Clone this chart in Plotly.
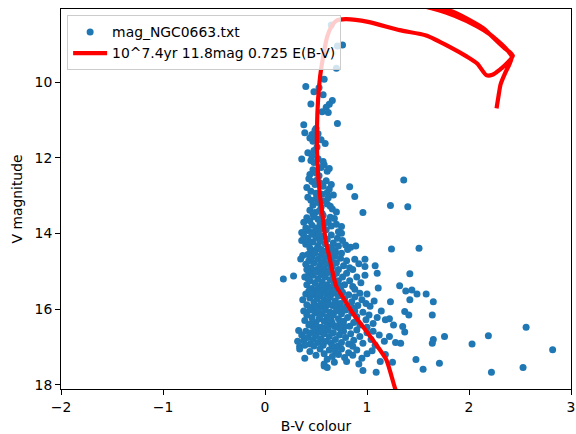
import plotly.graph_objects as go

# ---- data: observed stars (B-V colour, V magnitude) ----
stars_bv_v = [
    (0.65,8.48),(0.76,9.01),(0.71,9.04),(0.70,9.63),(0.58,9.92),(0.40,10.11),(0.48,10.25),(0.53,10.14),(0.57,10.33),
    (0.45,10.57),(0.66,10.48),(0.63,10.58),(0.60,10.66),(0.62,10.80),(0.56,10.78),(0.71,11.09),(0.38,11.12),(0.50,11.22),
    (0.39,11.33),(0.46,11.38),(0.49,11.27),(0.52,11.36),(0.59,11.62),(0.47,11.56),(0.44,11.47),(0.42,11.86),(0.48,11.80),
    (0.51,11.71),(0.46,11.95),(0.55,11.52),(0.50,11.45),
    (0.36,12.03),(0.45,12.07),(0.48,12.12),(0.52,12.02),(0.58,12.18),(0.55,12.25),(0.47,12.31),(0.50,12.40),(0.44,12.44),
    (0.61,12.35),(0.53,12.47),(0.57,12.09),(0.63,12.28),
    (0.43,12.55),(0.46,12.62),(0.49,12.70),(0.51,12.58),(0.54,12.66),(0.57,12.75),(0.60,12.60),(0.63,12.82),(0.65,12.70),
    (0.45,12.88),(0.50,12.93),(0.56,12.96),(0.61,12.91),(0.67,12.98),(0.83,12.76),(0.88,13.02),(1.36,12.58),(0.41,12.78),
    (0.42,13.04),(0.45,13.12),(0.47,13.25),(0.50,13.08),(0.52,13.18),(0.55,13.30),(0.58,13.14),(0.61,13.22),(0.64,13.28),
    (0.44,13.38),(0.49,13.44),(0.53,13.40),(0.56,13.47),(0.66,13.35),(0.70,13.43),(1.23,13.26),(1.40,13.29),(0.96,13.44),
    (0.62,13.05),(0.47,13.48),
    (0.38,13.70),(0.41,13.58),(0.44,13.66),(0.46,13.78),(0.48,13.55),(0.50,13.85),(0.52,13.62),(0.54,13.74),(0.57,13.52),
    (0.60,13.90),(0.62,13.68),(0.65,13.80),(0.68,13.60),(0.75,13.81),(0.42,13.92),(0.46,13.97),(0.51,13.95),(0.55,13.88),
    (0.59,13.72),(0.72,13.95),(0.40,13.85),(0.64,13.57),(0.70,13.75),(0.36,13.97),
    (0.36,14.18),(0.38,14.05),(0.40,14.28),(0.42,14.12),(0.44,14.38),(0.46,14.02),(0.47,14.22),(0.49,14.45),(0.50,14.10),
    (0.52,14.32),(0.54,14.20),(0.55,14.42),(0.57,14.07),(0.59,14.27),(0.61,14.15),(0.63,14.37),(0.65,14.04),(0.67,14.25),
    (0.69,14.47),(0.72,14.33),(0.75,13.99),(0.76,14.18),(0.79,14.30),(0.84,14.36),(0.89,14.33),(0.45,14.48),(0.51,14.40),
    (0.58,14.47),(0.62,14.44),(0.71,14.12),(0.43,14.25),(1.24,14.41),(1.51,14.39),(0.53,14.03),(0.66,14.40),(0.81,14.42),
    (0.35,14.67),(0.37,14.58),(0.40,14.81),(0.42,14.55),(0.43,14.72),(0.45,14.90),(0.46,14.62),(0.48,14.78),(0.49,14.52),
    (0.51,14.95),(0.52,14.68),(0.54,14.84),(0.55,14.57),(0.57,14.74),(0.58,14.92),(0.60,14.63),(0.61,14.80),(0.63,14.55),
    (0.65,14.70),(0.66,14.88),(0.68,14.60),(0.70,14.77),(0.72,14.95),(0.74,14.65),(0.77,14.85),(0.80,14.72),(0.83,14.90),
    (0.88,14.68),(0.92,14.80),(0.98,14.68),(0.98,14.87),(1.08,14.85),(0.47,14.98),(0.53,14.97),(0.59,14.99),(0.64,14.95),
    (0.69,14.53),(0.75,14.52),(0.86,14.95),(0.41,14.95),
    (0.18,15.20),(0.28,15.12),(0.39,15.15),(0.41,15.35),(0.43,15.05),(0.44,15.25),(0.46,15.45),(0.47,15.10),(0.49,15.30),
    (0.50,15.02),(0.52,15.20),(0.53,15.40),(0.55,15.08),(0.56,15.28),(0.58,15.48),(0.59,15.15),(0.61,15.35),(0.62,15.03),
    (0.64,15.22),(0.65,15.42),(0.67,15.12),(0.68,15.32),(0.70,15.05),(0.72,15.25),(0.74,15.45),(0.76,15.15),(0.78,15.35),
    (0.80,15.05),(0.83,15.25),(0.86,15.40),(0.90,15.15),(0.94,15.30),(0.98,15.10),(1.10,15.05),(1.11,15.44),(1.32,15.38),
    (1.42,15.06),(0.45,15.48),(0.51,15.47),(0.57,15.38),(0.63,15.48),(0.69,15.47),(0.42,15.18),(0.88,15.47),(0.73,15.38),
    (0.37,15.75),(0.40,15.60),(0.41,15.88),(0.43,15.52),(0.44,15.70),(0.46,15.95),(0.47,15.62),(0.48,15.82),(0.50,15.55),
    (0.51,15.72),(0.52,15.92),(0.54,15.65),(0.55,15.85),(0.56,15.52),(0.58,15.75),(0.59,15.97),(0.60,15.60),(0.62,15.80),
    (0.63,15.55),(0.64,15.68),(0.66,15.90),(0.67,15.58),(0.69,15.78),(0.70,15.95),(0.72,15.65),(0.74,15.85),(0.76,15.55),
    (0.78,15.72),(0.80,15.92),(0.82,15.62),(0.85,15.80),(0.88,15.68),(0.91,15.90),(0.95,15.75),(0.99,15.85),(1.03,15.92),
    (1.07,15.78),(1.23,15.80),(1.38,15.52),(1.44,15.49),(1.49,15.60),(1.58,15.60),(1.42,15.75),(1.65,15.80),(0.45,15.57),
    (0.53,15.58),(0.61,15.88),(0.68,15.52),(0.75,15.98),(0.86,15.97),(0.93,15.58),(0.49,15.99),(0.57,15.95),(1.00,15.60),
    (0.38,16.05),(0.39,16.30),(0.41,16.15),(0.43,16.42),(0.44,16.02),(0.46,16.22),(0.47,16.45),(0.49,16.10),(0.50,16.35),
    (0.52,16.05),(0.53,16.25),(0.55,16.48),(0.56,16.12),(0.58,16.32),(0.59,16.02),(0.61,16.20),(0.62,16.42),(0.64,16.08),
    (0.65,16.30),(0.67,16.15),(0.68,16.45),(0.70,16.05),(0.72,16.25),(0.73,16.40),(0.75,16.12),(0.77,16.32),(0.79,16.02),
    (0.81,16.22),(0.83,16.45),(0.85,16.10),(0.87,16.35),(0.90,16.20),(0.93,16.42),(0.96,16.08),(0.99,16.28),(1.02,16.15),
    (1.06,16.38),(1.10,16.22),(1.14,16.05),(1.18,16.28),(1.22,16.25),(1.37,16.06),(1.41,16.15),(1.64,16.15),(1.35,16.46),
    (2.56,16.48),(0.45,16.38),(0.54,16.18),(0.60,16.48),(0.66,16.38),(0.71,16.48),(0.78,16.45),(0.88,16.05),(1.00,16.48),
    (1.26,16.42),(0.51,16.47),(0.63,16.28),
    (0.33,16.56),(0.32,16.85),(0.34,16.98),(0.36,16.68),(0.38,16.82),(0.40,16.58),(0.42,16.75),(0.44,16.92),(0.45,16.62),
    (0.47,16.80),(0.49,16.55),(0.50,16.70),(0.52,16.88),(0.54,16.60),(0.55,16.78),(0.57,16.95),(0.58,16.65),(0.60,16.85),
    (0.62,16.55),(0.63,16.72),(0.65,16.90),(0.67,16.62),(0.69,16.80),(0.71,16.98),(0.73,16.68),(0.75,16.88),(0.77,16.58),
    (0.79,16.75),(0.82,16.92),(0.84,16.65),(0.87,16.82),(0.90,16.55),(0.93,16.72),(0.96,16.90),(1.00,16.62),(1.04,16.80),
    (1.08,16.95),(1.12,16.68),(1.17,16.85),(1.22,16.72),(1.28,16.88),(1.33,16.90),(1.37,16.60),(1.76,16.72),(1.65,16.80),
    (1.64,16.90),(2.19,16.70),(2.03,16.92),(0.48,16.97),(0.56,16.52),(0.66,16.98),(0.74,16.52),(0.86,16.98),(1.06,16.58),
    (0.39,16.95),
    (0.34,17.05),(0.39,17.30),(0.44,17.12),(0.50,17.22),(0.54,17.05),(0.58,17.18),(0.61,17.32),(0.63,17.08),(0.66,17.25),
    (0.69,17.12),(0.72,17.20),(0.75,17.05),(0.78,17.28),(0.82,17.15),(0.86,17.22),(0.90,17.08),(0.95,17.30),(1.00,17.18),
    (1.05,17.10),(1.13,17.38),(1.25,17.40),(1.48,17.33),(1.71,17.43),(2.82,17.07),(0.58,17.45),(0.68,17.40),(0.80,17.38),
    (0.92,17.45),(1.18,17.20),
    (0.58,17.50),(0.61,17.54),(0.96,17.62),(1.09,17.67),(1.55,17.59),(2.22,17.67),(2.53,17.54),
]
star_bv = [p[0] for p in stars_bv_v]
star_v = [p[1] for p in stars_bv_v]

# ---- data: isochrone (B-V colour, V magnitude) ----
iso_bv = [1.33, 1.28, 1.19, 1.08, 0.97, 0.86, 0.77, 0.70, 0.665, 0.63, 0.594, 0.57, 0.54, 0.52, 0.51, 0.51,
          0.52, 0.54, 0.57, 0.61, 0.65, 0.70, 0.79, 1.01, 1.32, 1.58, 1.81, 1.98, 2.08, 2.17, 2.23, 2.30,
          2.37, 2.43, 2.39, 2.35, 2.27, 2.14, 2.05, 1.83, 1.58, 1.35,
          1.50, 1.66, 1.86, 2.08, 2.20, 2.31, 2.38, 2.42, 2.40, 2.35, 2.31, 2.29, 2.27]
iso_v = [18.40, 18.13, 17.34, 16.90, 16.50, 16.10, 15.71, 15.40, 15.05, 14.60, 14.17, 13.64, 13.02, 12.40, 11.79, 11.17,
         10.47, 9.85, 9.32, 8.79, 8.53, 8.37, 8.33, 8.40, 8.62, 8.76, 9.06, 9.32, 9.50, 9.81, 9.80, 9.67,
         9.50, 9.30, 9.18, 9.10, 8.90, 8.57, 8.42, 8.12, 7.93, 7.80,
         7.95, 8.06, 8.24, 8.52, 8.72, 8.97, 9.16, 9.32, 9.50, 9.78, 10.05, 10.35, 10.69]

legend_stars = "mag_NGC0663.txt"
legend_iso = "10^7.4yr 11.8mag 0.725 E(B-V)"
x_ticks = [-2, -1, 0, 1, 2, 3]
y_ticks = [10, 12, 14, 16, 18]

FONT = "DejaVu Sans"
FS = 13.9

fig = go.Figure()
fig.add_trace(go.Scatter(
    x=star_bv, y=star_v, mode="markers", name=legend_stars,
    marker=dict(color="#1f77b4", size=7, line=dict(width=0)),
))
fig.add_trace(go.Scatter(
    x=iso_bv, y=iso_v, mode="lines", name=legend_iso,
    line=dict(color="#ff0000", width=4.2, shape="spline", smoothing=0.6),
))

axis_common = dict(
    showgrid=False, zeroline=False, showline=True, linecolor="black", linewidth=1.1,
    mirror=True, ticks="outside", ticklen=4.9, tickwidth=1.1, tickcolor="black",
    tickfont=dict(family=FONT, size=FS, color="black"),
)
fig.update_xaxes(range=[-2, 3], tickvals=x_ticks,
                 title=dict(text="B-V colour", font=dict(family=FONT, size=FS, color="black"), standoff=7),
                 **axis_common)
fig.update_yaxes(range=[18.11, 8.06], tickvals=y_ticks,
                 title=dict(text="V magnitude", font=dict(family=FONT, size=FS, color="black"), standoff=8),
                 **axis_common)

fig.update_layout(
    width=576, height=434,
    margin=dict(l=61, r=5, t=9, b=45, autoexpand=False),
    plot_bgcolor="white", paper_bgcolor="white",
    font=dict(family=FONT, size=FS, color="black"),
    showlegend=True,
    legend=dict(x=0.012, y=0.983, xanchor="left", yanchor="top",
                bgcolor="rgba(255,255,255,0.8)", bordercolor="#cccccc", borderwidth=1,
                font=dict(family=FONT, size=FS, color="black"), itemwidth=34, tracegroupgap=0),
)

fig.write_html("out.html")
